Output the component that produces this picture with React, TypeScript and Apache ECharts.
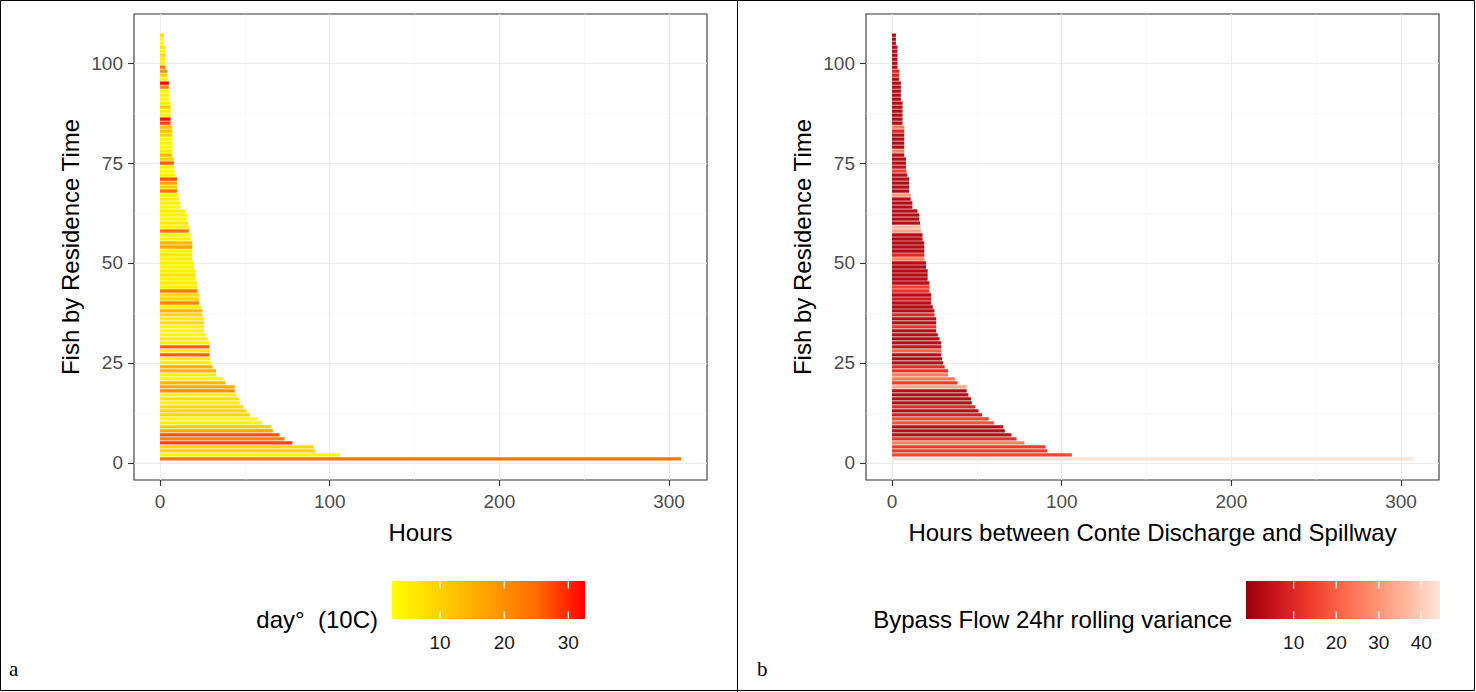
import React, { useEffect, useRef } from "react";
import * as echarts from "echarts";

// ---------- data ----------
// Hours of residence, fish 1 (bottom) .. 107 (top)
const HOURS: number[] = [
  307, 106, 91.4, 90.5, 78, 73.4, 70.4, 66.5, 65.5, 60,
  57, 53, 51, 49, 47, 46.5, 45, 44, 44, 38.6,
  37, 33, 33, 31, 30, 29.5, 29, 29, 29, 29,
  28, 27, 26, 26, 26, 26, 25, 25, 24, 23,
  23, 23, 22, 22, 22, 21, 21, 21, 20, 20,
  19, 19, 19, 19, 19, 18, 18, 17, 17, 16.5,
  16, 16, 15, 12, 12, 11, 11, 10, 10, 10,
  10, 9, 8.5, 8.2, 8.2, 8.2, 7.2, 7.2, 7.2, 7.2,
  7.2, 7.2, 7.2, 7.2, 6.2, 6.2, 6.2, 6.2, 6.2, 6.2,
  5.2, 5.2, 5.2, 5.2, 5.2, 4.2, 4.2, 4.2, 3.2, 3.2,
  3.2, 3.2, 3.2, 3.2, 2.3, 2.3, 2.3,
];

// degree-days (10C) per fish
const DEGREE_DAYS: number[] = [
  24, 4, 10, 9, 28, 22, 27, 17, 11, 5,
  4, 9, 9, 8, 5, 7, 4, 20, 16, 14,
  4, 5, 15, 15, 5, 5, 26, 6, 26, 5,
  6, 4, 5, 4, 8, 6, 9, 14, 5, 21,
  9, 8, 23, 5, 6, 5, 7, 5, 4, 5,
  5, 6, 4, 17, 14, 5, 4, 24, 5, 6,
  4, 5, 6, 4, 5, 6, 4, 24, 10, 17,
  27, 5, 4, 5, 26, 10, 14, 6, 4, 5,
  4, 10, 12, 12, 28, 32, 5, 6, 12, 5,
  4, 5, 4, 21, 32, 4, 10, 20, 24, 5,
  6, 9, 5, 7, 4, 4, 8,
];

// bypass flow 24hr rolling variance per fish
const BYPASS_VAR: number[] = [
  44, 16, 14, 14, 26, 12, 3, 3, 3, 18,
  16, 8, 3, 10, 3, 3, 3, 3, 33, 14,
  24, 26, 12, 10, 3, 3, 3, 20, 5, 3,
  3, 3, 3, 12, 3, 3, 10, 3, 3, 3,
  8, 3, 12, 15, 3, 3, 3, 3, 3, 3,
  26, 10, 3, 3, 3, 3, 3, 32, 37, 3,
  3, 3, 3, 3, 3, 3, 31, 3, 3, 3,
  3, 3, 15, 5, 3, 3, 3, 26, 3, 3,
  3, 3, 10, 25, 3, 3, 3, 3, 3, 3,
  3, 3, 3, 3, 3, 3, 8, 10, 3, 3,
  3, 3, 3, 3, 3, 3, 3,
];

const X_TICKS = [0, 100, 200, 300];
const X_MINOR = [50, 150, 250];
const Y_TICKS = [0, 25, 50, 75, 100];
const Y_MINOR = [12.5, 37.5, 62.5, 87.5];
const X_RANGE = [-15.35, 322.35];
const Y_RANGE = [-4.3, 112.3];

const LEFT_RANGE = [2.5, 32.6];
const LEFT_BREAKS = [10, 20, 30];
const LEFT_COLORS = ["#FFFF00", "#FFD100", "#FFA100", "#FF6B00", "#FF0000"];

const RIGHT_RANGE = [-1.2, 44.4];
const RIGHT_BREAKS = [10, 20, 30, 40];
const RIGHT_COLORS = ["#99000D", "#CB181D", "#EF3B2C", "#FB6A4A", "#FC9272", "#FCBBA1", "#FEE5D9"];

const LEFT_X_TITLE = "Hours";
const RIGHT_X_TITLE = "Hours between Conte Discharge and Spillway";
const Y_TITLE = "Fish by Residence Time";
const LEFT_LEGEND_TITLE = "day\u00B0  (10C)";
const RIGHT_LEGEND_TITLE = "Bypass Flow 24hr rolling variance";

const SANS = "'Liberation Sans', Arial, sans-serif";
const SERIF = "'Liberation Serif', 'Times New Roman', serif";

// ---------- layout ----------
const GRID_TOP = 14;
const GRID_H = 466;
const GRID_W = 573;
const LEFT_GRID_X = 134;
const RIGHT_GRID_X = 866;

function axesFor(gridIndex: number, xTitle: string) {
  const xAxes = [
    {
      type: "value",
      gridIndex,
      min: X_RANGE[0],
      max: X_RANGE[1],
      name: xTitle,
      nameLocation: "middle",
      nameGap: 40,
      nameTextStyle: { fontSize: 24, color: "#000", fontFamily: SANS },
      axisLine: { show: false, onZero: false },
      axisTick: { show: true, customValues: X_TICKS, length: 6, lineStyle: { color: "#333333", width: 1.1 } },
      axisLabel: { show: true, customValues: X_TICKS, margin: 12, color: "#4D4D4D", fontSize: 19, fontFamily: SANS },
      splitLine: { show: true, lineStyle: { color: "#EBEBEB", width: 1.1 } },
    },
    {
      type: "value",
      gridIndex,
      min: X_RANGE[0],
      max: X_RANGE[1],
      position: "bottom",
      axisLine: { show: false, onZero: false },
      axisTick: { show: false, customValues: X_MINOR },
      axisLabel: { show: false, customValues: X_MINOR },
      splitLine: { show: true, lineStyle: { color: "#F1F1F1", width: 0.6 } },
    },
  ];
  const yAxes = [
    {
      type: "value",
      gridIndex,
      min: Y_RANGE[0],
      max: Y_RANGE[1],
      name: Y_TITLE,
      nameLocation: "middle",
      nameGap: 52,
      nameTextStyle: { fontSize: 24, color: "#000", fontFamily: SANS },
      axisLine: { show: false, onZero: false },
      axisTick: { show: true, customValues: Y_TICKS, length: 6, lineStyle: { color: "#333333", width: 1.1 } },
      axisLabel: { show: true, customValues: Y_TICKS, margin: 11, color: "#4D4D4D", fontSize: 19, fontFamily: SANS },
      splitLine: { show: true, lineStyle: { color: "#EBEBEB", width: 1.1 } },
    },
    {
      type: "value",
      gridIndex,
      min: Y_RANGE[0],
      max: Y_RANGE[1],
      position: "left",
      axisLine: { show: false, onZero: false },
      axisTick: { show: false, customValues: Y_MINOR },
      axisLabel: { show: false, customValues: Y_MINOR },
      splitLine: { show: true, lineStyle: { color: "#F1F1F1", width: 0.6 } },
    },
  ];
  return { xAxes, yAxes };
}

const renderBar = (params: any, api: any) => {
  const h = api.value(0);
  const fish = api.value(1);
  const start = api.coord([0, fish]);
  const end = api.coord([h, fish]);
  const thick = api.size([0, 0.84])[1];
  return {
    type: "rect",
    shape: { x: start[0], y: start[1] - thick / 2, width: end[0] - start[0], height: thick },
    style: { fill: api.visual("color") },
  };
};

function legendGraphics(
  barX: number,
  barW: number,
  range: number[],
  breaks: number[],
  colors: string[],
  title: string
) {
  const barY = 581;
  const barH = 38;
  const els: any[] = [];
  els.push({
    type: "rect",
    shape: { x: barX, y: barY, width: barW, height: barH },
    style: {
      fill: {
        type: "linear",
        x: 0,
        y: 0,
        x2: 1,
        y2: 0,
        colorStops: colors.map((c, i) => ({ offset: i / (colors.length - 1), color: c })),
      },
    },
  });
  breaks.forEach((b) => {
    const x = barX + ((b - range[0]) / (range[1] - range[0])) * barW;
    els.push({
      type: "line",
      shape: { x1: x, y1: barY, x2: x, y2: barY + barH / 5 },
      style: { stroke: "#FFFFFF", lineWidth: 1.2 },
    });
    els.push({
      type: "line",
      shape: { x1: x, y1: barY + barH - barH / 5, x2: x, y2: barY + barH },
      style: { stroke: "#FFFFFF", lineWidth: 1.2 },
    });
    els.push({
      type: "text",
      x,
      y: 642,
      style: {
        text: String(b),
        fontSize: 19,
        fontFamily: SANS,
        fill: "#1A1A1A",
        align: "center",
        verticalAlign: "middle",
      },
    });
  });
  els.push({
    type: "text",
    x: barX - 14,
    y: 619,
    style: {
      text: title,
      fontSize: 24,
      fontFamily: SANS,
      fill: "#000",
      align: "right",
      verticalAlign: "middle",
    },
  });
  return els;
}

export default function App() {
  const ref = useRef<HTMLDivElement>(null);

  useEffect(() => {
    if (!ref.current) return;
    const chart = echarts.init(ref.current, undefined, { renderer: "svg" });

    const left = axesFor(0, LEFT_X_TITLE);
    const right = axesFor(1, RIGHT_X_TITLE);

    const leftData = HOURS.map((h, i) => [h, i + 1, DEGREE_DAYS[i]]);
    const rightData = HOURS.map((h, i) => [h, i + 1, BYPASS_VAR[i]]);

    const option: any = {
      animation: false,
      backgroundColor: "#FFFFFF",
      grid: [
        {
          left: LEFT_GRID_X,
          top: GRID_TOP,
          width: GRID_W,
          height: GRID_H,
          show: true,
          borderColor: "#333333",
          borderWidth: 1.1,
          backgroundColor: "transparent",
          containLabel: false,
          outerBoundsMode: "none",
        },
        {
          left: RIGHT_GRID_X,
          top: GRID_TOP,
          width: GRID_W,
          height: GRID_H,
          show: true,
          borderColor: "#333333",
          borderWidth: 1.1,
          backgroundColor: "transparent",
          containLabel: false,
          outerBoundsMode: "none",
        },
      ],
      xAxis: [...left.xAxes, ...right.xAxes],
      yAxis: [...left.yAxes, ...right.yAxes],
      visualMap: [
        {
          type: "continuous",
          show: false,
          seriesIndex: 0,
          dimension: 2,
          min: LEFT_RANGE[0],
          max: LEFT_RANGE[1],
          inRange: { color: LEFT_COLORS },
        },
        {
          type: "continuous",
          show: false,
          seriesIndex: 1,
          dimension: 2,
          min: RIGHT_RANGE[0],
          max: RIGHT_RANGE[1],
          inRange: { color: RIGHT_COLORS },
        },
      ],
      series: [
        {
          type: "custom",
          xAxisIndex: 0,
          yAxisIndex: 0,
          encode: { x: 0, y: 1 },
          renderItem: renderBar,
          data: leftData,
          z: 3,
        },
        {
          type: "custom",
          xAxisIndex: 2,
          yAxisIndex: 2,
          encode: { x: 0, y: 1 },
          renderItem: renderBar,
          data: rightData,
          z: 3,
        },
      ],
      graphic: [
        {
          type: "rect",
          shape: { x: 0.5, y: 0.5, width: 1474, height: 690 },
          style: { fill: "none", stroke: "#000", lineWidth: 1 },
          silent: true,
        },
        {
          type: "line",
          shape: { x1: 737.5, y1: 0, x2: 737.5, y2: 692 },
          style: { stroke: "#000", lineWidth: 1 },
          silent: true,
        },
        ...legendGraphics(392, 193, LEFT_RANGE, LEFT_BREAKS, LEFT_COLORS, LEFT_LEGEND_TITLE),
        ...legendGraphics(1246, 194, RIGHT_RANGE, RIGHT_BREAKS, RIGHT_COLORS, RIGHT_LEGEND_TITLE),
        {
          type: "text",
          x: 9,
          y: 669,
          style: { text: "a", fontSize: 21, fontFamily: SERIF, fill: "#000", verticalAlign: "middle" },
        },
        {
          type: "text",
          x: 757,
          y: 669,
          style: { text: "b", fontSize: 21, fontFamily: SERIF, fill: "#000", verticalAlign: "middle" },
        },
      ],
    };

    chart.setOption(option);
    return () => chart.dispose();
  }, []);

  return (
    <div
      ref={ref}
      style={{ position: "absolute", left: 0, top: 0, width: 1476, height: 692, background: "#fff" }}
    />
  );
}
